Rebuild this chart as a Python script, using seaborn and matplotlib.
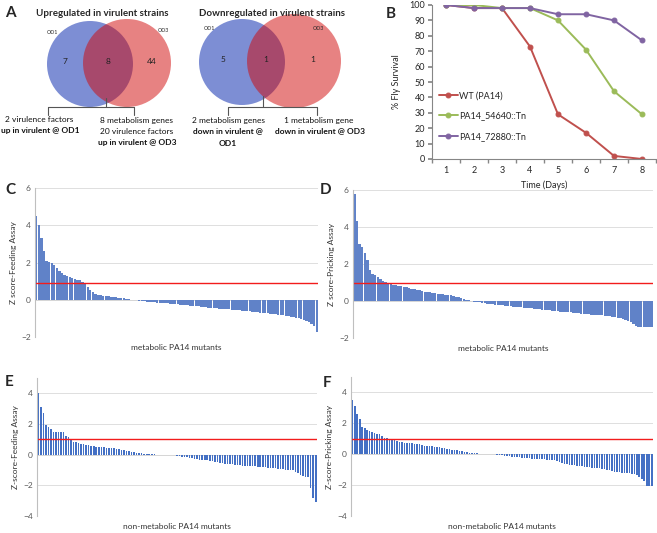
import numpy as np
import matplotlib.pyplot as plt
from matplotlib.patches import Circle
import seaborn as sns

# ── data ──────────────────────────────────────────────────────────────────────
days = [1, 2, 3, 4, 5, 6, 7, 8]
wt_pa14 = [100, 98, 98, 73, 29, 17, 2, 0]
pa14_54640 = [100, 100, 98, 98, 90, 71, 44, 29]
pa14_72880 = [100, 98, 98, 98, 94, 94, 90, 77]
series_names = ["WT (PA14)", "PA14_54640::Tn", "PA14_72880::Tn"]

venn_up = ["7", "8", "44"]
venn_down = ["5", "1", "1"]

# C: z-score feeding assay, metabolic mutants (sorted)
z_feed_metab = [
    4.5, 4.0, 3.3, 2.6, 2.1, 2.05, 1.95, 1.85, 1.7, 1.55,
    1.45, 1.35, 1.28, 1.22, 1.15, 1.12, 1.08, 1.05, 0.95, 0.85,
    0.7, 0.55, 0.42, 0.33, 0.27, 0.24, 0.22, 0.2, 0.19, 0.17,
    0.15, 0.13, 0.11, 0.09, 0.07, 0.05, 0.03, 0.01, -0.01, -0.03,
    -0.05, -0.07, -0.09, -0.1, -0.12, -0.13, -0.14, -0.15, -0.16, -0.18,
    -0.19, -0.2, -0.21, -0.22, -0.23, -0.25, -0.26, -0.27, -0.29, -0.3,
    -0.32, -0.34, -0.35, -0.36, -0.38, -0.39, -0.4, -0.42, -0.43, -0.44,
    -0.46, -0.47, -0.49, -0.5, -0.51, -0.52, -0.53, -0.54, -0.56, -0.57,
    -0.59, -0.6, -0.62, -0.63, -0.65, -0.66, -0.68, -0.69, -0.7, -0.71,
    -0.73, -0.75, -0.77, -0.79, -0.8, -0.82, -0.84, -0.86, -0.88, -0.91,
    -0.94, -0.97, -1.0, -1.04, -1.08, -1.13, -1.2, -1.28, -1.4, -1.72,
]
# D: z-score pricking assay, metabolic mutants
z_prick_metab = [
    5.8, 4.3, 3.1, 2.9, 2.6, 2.2, 1.7, 1.45, 1.38, 1.3,
    1.2, 1.1, 1.02, 0.96, 0.92, 0.88, 0.85, 0.82, 0.79, 0.76,
    0.73, 0.7, 0.66, 0.63, 0.6, 0.57, 0.54, 0.51, 0.48, 0.46,
    0.44, 0.42, 0.4, 0.38, 0.36, 0.34, 0.32, 0.3, 0.27, 0.24,
    0.2, 0.17, 0.13, 0.08, 0.04, 0.0, -0.03, -0.06, -0.08, -0.1,
    -0.12, -0.14, -0.16, -0.18, -0.19, -0.21, -0.22, -0.24, -0.26, -0.27,
    -0.28, -0.3, -0.31, -0.33, -0.34, -0.36, -0.37, -0.39, -0.4, -0.42,
    -0.44, -0.45, -0.47, -0.48, -0.5, -0.51, -0.52, -0.54, -0.55, -0.57,
    -0.58, -0.6, -0.61, -0.62, -0.64, -0.65, -0.66, -0.68, -0.69, -0.7,
    -0.72, -0.73, -0.74, -0.75, -0.77, -0.78, -0.8, -0.81, -0.83, -0.85,
    -0.87, -0.9, -0.93, -0.97, -1.02, -1.08, -1.16, -1.26, -1.36, -1.38,
    -1.38, -1.38, -1.38, -1.38, -1.38,
]
# E: z-score feeding assay, non-metabolic mutants
z_feed_nonmetab = [
    4.0, 3.1, 2.7, 1.95, 1.8, 1.65, 1.5, 1.5, 1.5, 1.5,
    1.45, 1.2, 1.15, 0.95, 0.85, 0.8, 0.75, 0.72, 0.7, 0.65,
    0.6, 0.58, 0.55, 0.53, 0.52, 0.5, 0.48, 0.46, 0.45, 0.43,
    0.42, 0.4, 0.36, 0.3, 0.28, 0.25, 0.22, 0.18, 0.15, 0.12,
    0.1, 0.08, 0.06, 0.05, 0.04, 0.03, 0.02, 0.01, 0.0, 0.0,
    0.0, 0.0, -0.02, -0.03, -0.05, -0.07, -0.1, -0.12, -0.15, -0.18,
    -0.22, -0.25, -0.28, -0.3, -0.32, -0.34, -0.36, -0.38, -0.4, -0.43,
    -0.45, -0.48, -0.52, -0.55, -0.58, -0.6, -0.62, -0.64, -0.66, -0.68,
    -0.7, -0.71, -0.72, -0.73, -0.74, -0.75, -0.76, -0.78, -0.8, -0.82,
    -0.83, -0.85, -0.86, -0.88, -0.9, -0.92, -0.93, -0.95, -0.97, -0.98,
    -1.0, -1.03, -1.1, -1.2, -1.3, -1.4, -1.45, -1.45, -2.2, -2.8, -3.1,
]
# F: z-score pricking assay, non-metabolic mutants
z_prick_nonmetab = [
    3.5, 3.1, 2.6, 2.3, 1.75, 1.7, 1.55, 1.5, 1.45, 1.35,
    1.3, 1.28, 1.2, 1.05, 1.02, 1.0, 0.95, 0.9, 0.85, 0.8,
    0.77, 0.75, 0.72, 0.7, 0.7, 0.68, 0.66, 0.65, 0.6, 0.56,
    0.52, 0.5, 0.5, 0.48, 0.47, 0.45, 0.43, 0.4, 0.36, 0.33,
    0.3, 0.28, 0.26, 0.22, 0.2, 0.14, 0.12, 0.1, 0.08, 0.06,
    0.05, 0.04, 0.03, 0.02, 0.0, 0.0, 0.0, 0.0, -0.05, -0.07,
    -0.08, -0.1, -0.12, -0.14, -0.16, -0.18, -0.2, -0.2, -0.22, -0.23,
    -0.25, -0.26, -0.28, -0.28, -0.3, -0.3, -0.32, -0.33, -0.35, -0.36,
    -0.38, -0.4, -0.42, -0.5, -0.6, -0.62, -0.65, -0.68, -0.7, -0.72,
    -0.74, -0.76, -0.78, -0.8, -0.83, -0.85, -0.87, -0.88, -0.9, -0.92,
    -0.95, -0.98, -1.0, -1.05, -1.1, -1.12, -1.15, -1.18, -1.2, -1.2,
    -1.22, -1.22, -1.25, -1.3, -1.35, -1.5, -1.6, -1.75, -2.05, -2.05, -2.05,
]
thresholds = [0.92, 1.0, 1.0, 1.0]

# ── style ─────────────────────────────────────────────────────────────────────
sns.set_theme(style="white")
plt.rcParams["font.family"] = ["Lato", "DejaVu Sans"]

W, H = 657, 533
fig = plt.figure(figsize=(W / 100, H / 100), dpi=100)


def px_axes(left, top, right, bottom):
    return fig.add_axes([left / W, 1 - bottom / H, (right - left) / W, (bottom - top) / H])


# overlay in pixel coords for venn diagrams and panel letters
ov = fig.add_axes([0, 0, 1, 1])
ov.set_xlim(0, W)
ov.set_ylim(H, 0)
ov.axis("off")

for lab, x, y in [("A", 10, 13), ("B", 391, 14), ("C", 10, 190),
                  ("D", 326, 190), ("E", 9, 382), ("F", 327, 383)]:
    ov.text(x, y, lab, fontsize=11, fontweight="bold", ha="center", va="center")

BLUE_C, RED_C = "#7d8ed4", "#d10606"


def venn(cx_b, cx_r, cy, rb, rr, nums, title, tx):
    ov.add_patch(Circle((cx_b, cy), rb, facecolor=BLUE_C, edgecolor="none"))
    ov.add_patch(Circle((cx_r, cy - 1), rr, facecolor=RED_C, alpha=0.5, edgecolor="none"))
    ov.text(tx, 13, title, fontsize=7, fontweight="bold", ha="center", va="center")
    mid = (cx_b + rb + cx_r - rr) / 2
    for x, s in zip([(cx_b - rb + cx_r - rr) / 2, mid, (cx_b + rb + cx_r + rr) / 2], nums):
        ov.text(x, cy - 2, s, fontsize=6, ha="center", va="center", color="#222222")
    return mid


venn(90, 127, 64, 43, 44, venn_up, "Upregulated in virulent strains", 102)
ov.text(52, 32, "OD1", fontsize=3.8, ha="center", va="center")
ov.text(163, 31, "OD3", fontsize=3.8, ha="center", va="center")
venn(242, 294, 62, 43, 47, venn_down, "Downregulated in virulent strains", 272)
ov.text(209, 29, "OD1", fontsize=3.8, ha="center", va="center")
ov.text(318, 28, "OD3", fontsize=3.8, ha="center", va="center")

# brackets
for xm, xl, xr, ytop in [(106, 48, 134, 98), (263, 228, 317, 96)]:
    ov.plot([xm, xm], [ytop, 107], color="#555555", lw=0.8)
    ov.plot([xl, xr], [107, 107], color="#555555", lw=0.8)
    ov.plot([xl, xl], [107, 115], color="#555555", lw=0.8)
    ov.plot([xr, xr], [107, 115], color="#555555", lw=0.8)

txt = dict(fontsize=6, ha="center", va="center", color="#111111")
ov.text(39, 120, "2 virulence factors", **txt)
ov.text(40, 131, "up in virulent @ OD1", fontweight="bold", **txt)
ov.text(137, 120, "8 metabolism genes", **txt)
ov.text(137, 132, "20 virulence factors", **txt)
ov.text(137, 143, "up in virulent @ OD3", fontweight="bold", **txt)
ov.text(228, 120, "2 metabolism genes", **txt)
ov.text(228, 131, "down in virulent @", fontweight="bold", **txt)
ov.text(228, 143, "OD1", fontweight="bold", **txt)
ov.text(319, 120, "1 metabolism gene", **txt)
ov.text(320, 131, "down in virulent @ OD3", fontweight="bold", **txt)

# ── B: survival curves ───────────────────────────────────────────────────────
axb = px_axes(432, 5, 656, 159)
line_cols = ["#c0504d", "#9bbb59", "#8064a2"]
for vals, name, col in zip([wt_pa14, pa14_54640, pa14_72880], series_names, line_cols):
    sns.lineplot(x=days, y=vals, ax=axb, color=col, marker="o", markersize=3.5,
                 markeredgecolor=col, linewidth=1.4, label=name)
axb.set_xlim(0.5, 8.5)
axb.set_ylim(0, 100)
axb.set_yticks(range(0, 101, 10))
axb.set_xticks(days)
axb.set_xticks(np.arange(0.5, 9, 1), minor=True)
axb.tick_params(axis="x", which="major", length=0, labelsize=6.5, pad=5)
axb.tick_params(axis="x", which="minor", length=3, color="#868686", direction="out")
axb.tick_params(axis="y", length=3, color="#868686", direction="out", labelsize=6.5, pad=2)
axb.xaxis.set_tick_params(which="minor", bottom=True)
axb.yaxis.set_tick_params(left=True)
for s in ["top", "right"]:
    axb.spines[s].set_visible(False)
for s in ["left", "bottom"]:
    axb.spines[s].set_color("#868686")
    axb.spines[s].set_linewidth(0.8)
axb.set_xlabel("Time (Days)", fontsize=6.5, labelpad=4)
axb.set_ylabel("% Fly Survival", fontsize=6.5, labelpad=6)
axb.legend(loc="upper left", bbox_to_anchor=(0.03, 0.44), frameon=False, fontsize=6.5,
           handlelength=2.1, handletextpad=0.15, labelspacing=1.25,
           borderpad=0, borderaxespad=0)

# ── C–F: z-score bar charts ──────────────────────────────────────────────────
panels = [
    (z_feed_metab, (35, 188, 318, 337), (-2, 6), [-2, 0, 2, 4, 6],
     "Z score-Feeding Assay", "metabolic PA14 mutants", 0.92, "#6082c8"),
    (z_prick_metab, (353, 190, 653, 338), (-2, 6), [-2, 0, 2, 4, 6],
     "Z score-Pricking Assay", "metabolic PA14 mutants", 0.92, "#6082c8"),
    (z_feed_nonmetab, (37, 378, 317, 516), (-4, 5), [-4, -2, 0, 2, 4],
     "Z-score-Feeding Assay", "non-metabolic PA14 mutants", 0.62, "#4470c4"),
    (z_prick_nonmetab, (351, 377, 653, 516), (-4, 5), [-4, -2, 0, 2, 4],
     "Z-score-Pricking Assay", "non-metabolic PA14 mutants", 0.62, "#4470c4"),
]
for (vals, box, ylim, yt, ylab, xlab, bw, col), thr in zip(panels, thresholds):
    ax = px_axes(*box)
    ax.yaxis.grid(True, color="#d9d9d9", linewidth=0.6)
    ax.set_axisbelow(True)
    sns.barplot(x=np.arange(len(vals)), y=vals, ax=ax, color=col, saturation=1,
                width=bw, errorbar=None, edgecolor="none")
    ax.axhline(0, color="#bfbfbf", linewidth=0.6, zorder=0.5)
    ax.axhline(thr, color="#f21c1c", linewidth=1.0)
    ax.set_xlim(-0.5, len(vals) - 0.5)
    ax.set_ylim(*ylim)
    ax.set_yticks(yt)
    ax.set_xticks([])
    ax.tick_params(axis="y", length=0, labelsize=6, labelcolor="#595959", pad=3)
    for s in ["top", "right", "bottom"]:
        ax.spines[s].set_visible(False)
    ax.spines["left"].set_color("#bfbfbf")
    ax.spines["left"].set_linewidth(0.8)
    ax.set_ylabel(ylab, fontsize=6, color="#333333", labelpad=3)
    ax.set_xlabel(xlab, fontsize=6, color="#333333", labelpad=5)

fig.savefig("out.png", dpi=100)
